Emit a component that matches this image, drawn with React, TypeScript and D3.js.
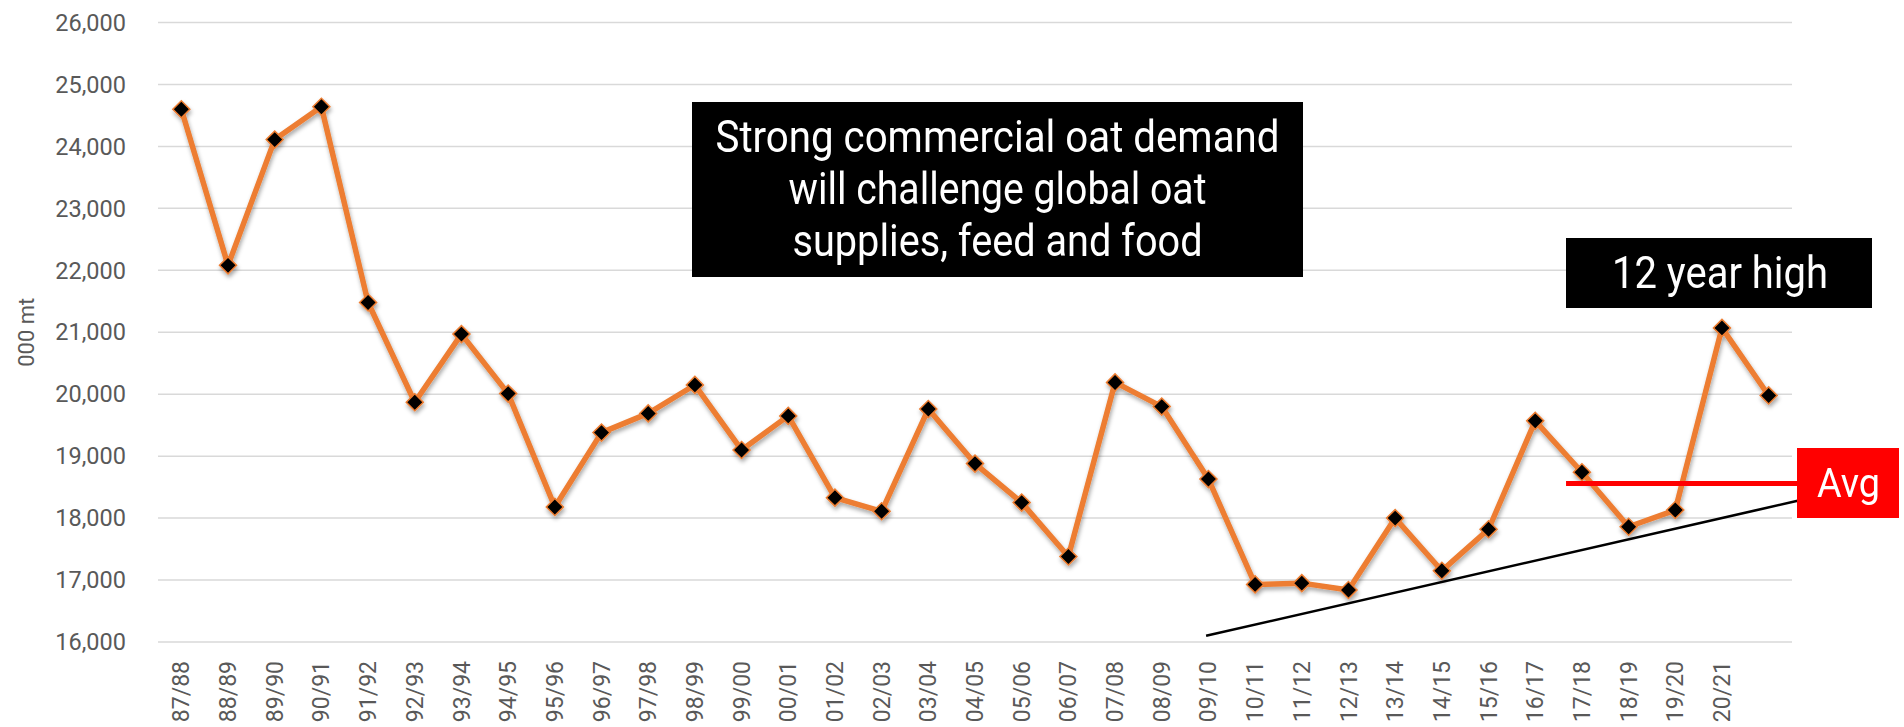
import React from "react";
import * as d3 from "d3";

const categories = [
  "87/88", "88/89", "89/90", "90/91", "91/92", "92/93", "93/94", "94/95", "95/96", "96/97",
  "97/98", "98/99", "99/00", "00/01", "01/02", "02/03", "03/04", "04/05", "05/06", "06/07",
  "07/08", "08/09", "09/10", "10/11", "11/12", "12/13", "13/14", "14/15", "15/16", "16/17",
  "17/18", "18/19", "19/20", "20/21", "21/22",
];
const unlabeled = ["21/22"];

const values = [
  24600, 22080, 24110, 24640, 21480, 19870, 20970, 20010, 18180, 19380,
  19690, 20150, 19100, 19650, 18330, 18110, 19760, 18880, 18250, 17380,
  20190, 19800, 18630, 16930, 16950, 16840, 18000, 17150, 17820, 19570,
  18740, 17860, 18130, 21070, 19980,
];

const yTicks = [16000, 17000, 18000, 19000, 20000, 21000, 22000, 23000, 24000, 25000, 26000];

// trend line endpoints: [category index (fractional), value]
const trendLine: [number, number][] = [
  [21.95, 16100],
  [34.62, 18280],
];
// average line: value and extent in category-index units
const avgValue = 18560;
const avgExtent = [29.66, 34.62];

const mainNote = ["Strong commercial oat demand", "will challenge global oat", "supplies, feed and food"];
const highNote = "12 year high";
const avgNote = "Avg";
const yTitle = "000 mt";

const W = 1904;
const H = 727;

export default function App() {
  const x = d3.scalePoint<string>().domain(categories).range([158, 1792]).padding(0.5);
  const xi = d3
    .scaleLinear()
    .domain([0, categories.length - 1])
    .range([x(categories[0])!, x(categories[categories.length - 1])!]);
  const y = d3.scaleLinear().domain([16000, 26000]).range([642, 22.5]);
  const fmt = d3.format(",");

  const line = d3
    .line<number>()
    .x((_, i) => x(categories[i])!)
    .y((d) => y(d));

  const diamond = d3.symbol().type(d3.symbolSquare).size(145)()!;

  const font = "Roboto, 'Noto Sans', sans-serif";
  const mainW = [564, 418, 410];

  return (
    <svg
      width={W}
      height={H}
      style={{ position: "absolute", left: 0, top: 0, background: "#fff" }}
      fontFamily={font}
    >
      <defs>
        <filter id="shadow" x="-5%" y="-5%" width="110%" height="120%">
          <feDropShadow dx="1" dy="3" stdDeviation="2" floodColor="#000" floodOpacity="0.35" />
        </filter>
      </defs>
      <rect x={0} y={0} width={W} height={H} fill="#fff" />

      {/* gridlines */}
      {yTicks.map((t) => (
        <line key={t} x1={158} x2={1792} y1={y(t)} y2={y(t)} stroke="#d9d9d9" strokeWidth={1.5} />
      ))}

      {/* y tick labels */}
      {yTicks.map((t) => (
        <text key={t} x={126} y={y(t)} dy="0.35em" textAnchor="end" fontSize={23.5} fill="#595959">
          {fmt(t)}
        </text>
      ))}

      {/* y title */}
      <text
        transform={`translate(26,${(y(16000) + y(26000)) / 2}) rotate(-90)`}
        dy="0.35em"
        textAnchor="middle"
        fontSize={22}
        fill="#595959"
      >
        {yTitle}
      </text>

      {/* x labels */}
      {categories
        .filter((c) => !unlabeled.includes(c))
        .map((c) => (
          <text
            key={c}
            transform={`translate(${x(c)},661) rotate(-90)`}
            dy="0.35em"
            textAnchor="end"
            fontSize={23}
            fill="#595959"
          >
            {c}
          </text>
        ))}

      {/* trend line */}
      <line
        x1={xi(trendLine[0][0])}
        y1={y(trendLine[0][1])}
        x2={xi(trendLine[1][0])}
        y2={y(trendLine[1][1])}
        stroke="#000"
        strokeWidth={2.6}
      />

      {/* data line and markers */}
      <g filter="url(#shadow)">
        <path d={line(values)!} fill="none" stroke="#ED7D31" strokeWidth={5.5} strokeLinejoin="round" />
        {values.map((v, i) => (
          <path
            key={i}
            d={diamond}
            transform={`translate(${x(categories[i])},${y(v)}) rotate(45)`}
            fill="#000"
            stroke="#ED7D31"
            strokeWidth={1.5}
          />
        ))}
      </g>

      {/* average line */}
      <line
        x1={xi(avgExtent[0])}
        x2={xi(avgExtent[1])}
        y1={y(avgValue)}
        y2={y(avgValue)}
        stroke="#FF0000"
        strokeWidth={5}
      />

      {/* main note */}
      <rect x={692} y={102} width={611} height={175} fill="#000" />
      {mainNote.map((s, i) => (
        <text
          key={i}
          x={997.5}
          y={152 + i * 52}
          textAnchor="middle"
          fontSize={44}
          fill="#fff"
          textLength={mainW[i]}
          lengthAdjust="spacingAndGlyphs"
        >
          {s}
        </text>
      ))}

      {/* 12 year high */}
      <rect x={1566} y={238} width={306} height={70} fill="#000" />
      <text
        x={1720}
        y={288}
        textAnchor="middle"
        fontSize={44}
        fill="#fff"
        textLength={216}
        lengthAdjust="spacingAndGlyphs"
      >
        {highNote}
      </text>

      {/* Avg box */}
      <rect x={1797} y={448} width={102} height={70} fill="#FF0000" />
      <text
        x={1848.5}
        y={497}
        textAnchor="middle"
        fontSize={40}
        fill="#fff"
        textLength={63}
        lengthAdjust="spacingAndGlyphs"
      >
        {avgNote}
      </text>
    </svg>
  );
}
